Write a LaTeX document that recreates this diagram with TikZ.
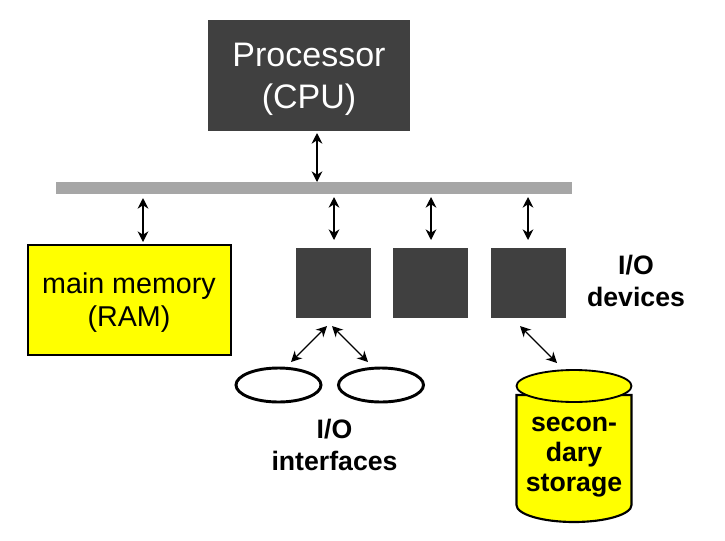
\documentclass[tikz,border=0pt]{standalone}
\usepackage{fontspec}
\setmainfont{Liberation Sans}
\usetikzlibrary{arrows.meta,shapes.geometric}
\definecolor{darkbox}{HTML}{404040}
\definecolor{membox}{HTML}{FFFF00}
\definecolor{busgray}{HTML}{A6A6A6}
\newdimen\unit
\unit=0.75pt
\tikzset{dev/.style={draw=none,fill=darkbox,minimum width=75\unit,minimum height=70\unit,inner sep=0pt},
	link/.style={{Stealth[length=8pt,width=8pt]}-{Stealth[length=8pt,width=8pt]},line width=1pt,black},
	lab/.style={font=\bfseries\fontsize{20}{24}\selectfont,align=center,inner sep=0pt},
	disk/.style={draw=black,line width=2.2pt,fill=white,ellipse,minimum width=85\unit,minimum height=34\unit,inner sep=0pt}}
\begin{document}
\begin{tikzpicture}[x=0.75pt,y=-0.75pt]
	\useasboundingbox (0,0) rectangle (725,540);
	\node [fill=darkbox,minimum width=202\unit,minimum height=111\unit,inner sep=0pt] (cpu) at (309,75) {};
	\node [text=white,inner sep=0pt,align=center,font=\fontsize{25.5}{31.5}\selectfont] (cpulab) at (309,79.5) {Processor\\(CPU)};
	\node [fill=busgray,minimum width=516\unit,minimum height=12\unit,inner sep=0pt] (bus) at (314,188) {};
	\node [draw=black,line width=1.2pt,fill=membox,minimum width=203\unit,minimum height=110\unit,inner sep=0pt] (ram) at (129.5,300) {};
	\node [inner sep=0pt,align=center,font=\fontsize{21.5}{24.75}\selectfont] (ramlab) at (129,303) {main memory\\(RAM)};
	\node [dev] (dev1) at (333.5,283) {};
	\node [dev] (dev2) at (430.5,283) {};
	\node [dev] (dev3) at (528,283) {};
	\node [disk] (disk1) at (278.5,385) {};
	\node [disk] (disk2) at (381,385) {};
	% secondary storage cylinder
	\draw [draw=black,line width=1.6pt,fill=membox] (516.5,395) -- (516.5,505) arc [start angle=180,end angle=360,x radius=57.5,y radius=-17] -- (631.5,395) -- cycle;
	\node [draw=black,line width=1.4pt,fill=membox,ellipse,minimum width=115\unit,minimum height=32\unit,inner sep=0pt] (top) at (574,386) {};
	\node [lab,font=\bfseries\fontsize{20}{22.5}\selectfont] (store) at (574,457) {secon-\\dary\\storage};
	\node [lab] (iodev) at (636,281) {I/O\\devices};
	\node [lab] (ioif) at (334.5,445) {I/O\\interfaces};
	\coordinate (c1) at (317,133);
	\coordinate (c2) at (317,182);
	\draw [link] (c1) -- (c2);
	\coordinate (r1) at (143,198);
	\coordinate (r2) at (143,242);
	\draw [link] (r1) -- (r2);
	\foreach \px/\name in {334/a,431/b,528/c} {
		\coordinate (t\name) at (\px,197);
		\coordinate (u\name) at (\px,240);
		\draw [link] (t\name) -- (u\name);
	}
	\coordinate (h1) at (327,326);
	\coordinate (h2) at (291,362);
	\coordinate (h3) at (332,326);
	\coordinate (h4) at (368,362);
	\coordinate (h5) at (520,326);
	\coordinate (h6) at (557,363);
	\draw [link] (h1) -- (h2);
	\draw [link] (h3) -- (h4);
	\draw [link] (h5) -- (h6);
\end{tikzpicture}
\end{document}
